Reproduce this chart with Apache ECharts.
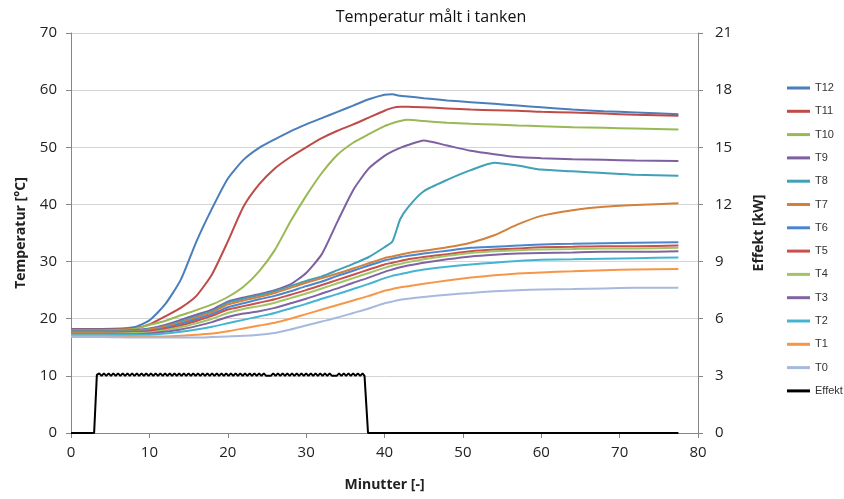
<!DOCTYPE html>
<html>
<head>
<meta charset="utf-8">
<script src="https://cdn.jsdelivr.net/npm/echarts@6/dist/echarts.min.js"></script>
<style>html,body{margin:0;padding:0;background:#fff;}#c{width:844px;height:499px;}</style>
</head>
<body>
<div id="c"></div>
<script>
// Shared time grid (minutes) for the temperature series
const minutes = [0, 4, 8, 10, 12, 14, 16, 18, 20, 22, 24, 26, 28, 30, 32, 34, 36, 38, 40, 41, 42, 43, 45, 48, 51, 54, 57, 60, 64, 68, 72, 77.5];

const T12 = [18.2, 18.2, 18.5, 19.7, 22.5, 26.8, 33.5, 39.3, 44.5, 47.8, 49.9, 51.4, 52.8, 54.0, 55.1, 56.2, 57.3, 58.4, 59.2, 59.3, 59.0, 58.9, 58.6, 58.2, 57.9, 57.6, 57.3, 57.0, 56.6, 56.3, 56.1, 55.8];
const T11 = [18.1, 18.1, 18.3, 19.0, 20.4, 21.9, 24.0, 27.8, 33.5, 39.6, 43.5, 46.3, 48.3, 50.0, 51.6, 52.9, 54.0, 55.2, 56.4, 56.9, 57.1, 57.1, 57.0, 56.8, 56.6, 56.5, 56.4, 56.2, 56.1, 55.9, 55.7, 55.5];
const T10 = [18.0, 18.0, 18.2, 18.9, 19.6, 20.6, 21.5, 22.5, 23.8, 25.6, 28.3, 32.0, 37.0, 41.5, 45.5, 48.7, 50.8, 52.3, 53.7, 54.2, 54.6, 54.8, 54.6, 54.3, 54.1, 54.0, 53.8, 53.7, 53.5, 53.4, 53.3, 53.1];
const T9  = [17.9, 17.9, 18.0, 18.3, 18.9, 19.8, 20.7, 21.6, 23.0, 23.7, 24.3, 25.0, 26.0, 28.0, 31.3, 37.0, 42.5, 46.3, 48.5, 49.3, 49.9, 50.4, 51.2, 50.3, 49.4, 48.8, 48.3, 48.1, 47.9, 47.8, 47.7, 47.6];
const T8  = [17.8, 17.8, 17.9, 18.2, 18.7, 19.5, 20.4, 21.3, 22.8, 23.5, 24.1, 24.8, 25.7, 26.6, 27.4, 28.5, 29.6, 30.8, 32.5, 33.5, 37.4, 39.5, 42.3, 44.3, 46.0, 47.3, 46.8, 46.1, 45.8, 45.5, 45.2, 45.0];
const T7  = [17.7, 17.7, 17.8, 18.1, 18.6, 19.3, 20.2, 21.1, 22.5, 23.2, 23.8, 24.5, 25.4, 26.3, 27.1, 27.9, 28.8, 29.7, 30.6, 30.9, 31.2, 31.5, 31.9, 32.5, 33.3, 34.6, 36.5, 38.0, 39.0, 39.6, 39.9, 40.2];
const T6  = [17.6, 17.6, 17.7, 17.9, 18.4, 19.1, 19.9, 20.8, 22.0, 22.7, 23.4, 24.0, 24.8, 25.7, 26.5, 27.5, 28.4, 29.3, 30.2, 30.5, 30.8, 31.0, 31.4, 31.9, 32.4, 32.6, 32.8, 33.0, 33.1, 33.2, 33.3, 33.4];
const T5  = [17.5, 17.5, 17.6, 17.8, 18.2, 18.8, 19.6, 20.5, 21.6, 22.2, 22.8, 23.4, 24.2, 25.0, 25.9, 26.8, 27.7, 28.6, 29.5, 29.8, 30.1, 30.4, 30.8, 31.3, 31.8, 32.1, 32.3, 32.5, 32.6, 32.7, 32.7, 32.8];
const T4  = [17.4, 17.4, 17.5, 17.6, 18.0, 18.5, 19.2, 20.0, 21.0, 21.7, 22.2, 22.8, 23.6, 24.4, 25.3, 26.2, 27.1, 28.0, 28.9, 29.3, 29.6, 29.9, 30.4, 31.0, 31.5, 31.8, 32.0, 32.1, 32.2, 32.3, 32.3, 32.4];
const T3  = [17.3, 17.3, 17.3, 17.4, 17.7, 18.1, 18.7, 19.4, 20.3, 20.9, 21.3, 21.9, 22.7, 23.5, 24.4, 25.3, 26.3, 27.2, 28.2, 28.6, 29.0, 29.3, 29.8, 30.4, 30.9, 31.2, 31.4, 31.5, 31.6, 31.7, 31.7, 31.8];
const T2  = [17.2, 17.2, 17.2, 17.2, 17.4, 17.7, 18.1, 18.6, 19.2, 19.8, 20.4, 21.0, 21.8, 22.6, 23.5, 24.3, 25.2, 26.1, 27.1, 27.5, 27.8, 28.1, 28.6, 29.1, 29.5, 29.8, 30.1, 30.3, 30.4, 30.5, 30.6, 30.7];
const T1  = [17.0, 17.0, 16.9, 16.9, 16.9, 17.0, 17.2, 17.4, 17.8, 18.3, 18.8, 19.3, 20.0, 20.8, 21.6, 22.4, 23.2, 24.0, 24.9, 25.2, 25.5, 25.7, 26.1, 26.7, 27.2, 27.6, 27.9, 28.1, 28.3, 28.5, 28.6, 28.7];
const T0  = [16.8, 16.8, 16.7, 16.7, 16.7, 16.7, 16.7, 16.8, 16.9, 17.0, 17.2, 17.5, 18.1, 18.8, 19.5, 20.2, 21.0, 21.8, 22.7, 23.0, 23.3, 23.5, 23.8, 24.2, 24.5, 24.8, 25.0, 25.1, 25.2, 25.3, 25.4, 25.4];

// Heater power (kW), right axis
const effektMinutes = [0, 2.95, 3.3,
  3.6, 3.9, 4.2, 4.5, 4.8, 5.1, 5.4, 5.7, 6.0, 6.3, 6.6, 6.9, 7.2, 7.5, 7.8, 8.1, 8.4, 8.7, 9.0, 9.3, 9.6, 9.9,
  10.2, 10.5, 10.8, 11.1, 11.4, 11.7, 12.0, 12.3, 12.6, 12.9, 13.2, 13.5, 13.8, 14.1, 14.4, 14.7, 15.0, 15.3, 15.6, 15.9,
  16.2, 16.5, 16.8, 17.1, 17.4, 17.7, 18.0, 18.3, 18.6, 18.9, 19.2, 19.5, 19.8, 20.1, 20.4, 20.7, 21.0, 21.3, 21.6, 21.9,
  22.2, 22.5, 22.8, 23.1, 23.4, 23.7, 24.0, 24.3, 24.6, 24.9, 25.2, 25.5, 25.8, 26.1, 26.4, 26.7, 27.0, 27.3, 27.6, 27.9,
  28.2, 28.5, 28.8, 29.1, 29.4, 29.7, 30.0, 30.3, 30.6, 30.9, 31.2, 31.5, 31.8, 32.1, 32.4, 32.7, 33.0, 33.3, 33.6, 33.9,
  34.2, 34.5, 34.8, 35.1, 35.4, 35.7, 36.0, 36.3, 36.6, 36.9, 37.2,
  37.45, 37.9, 77.5];
const effektKW = [0, 0, 3.05,
  3.13, 3.0, 3.13, 3.0, 3.13, 3.0, 3.13, 3.0, 3.13, 3.0, 3.13, 3.0, 3.13, 3.0, 3.13, 3.0, 3.13, 3.0, 3.13, 3.0, 3.13, 3.0,
  3.13, 3.0, 3.13, 3.0, 3.13, 3.0, 3.13, 3.0, 3.13, 3.0, 3.13, 3.0, 3.13, 3.0, 3.13, 3.0, 3.13, 3.0, 3.13, 3.0,
  3.13, 3.0, 3.13, 3.0, 3.13, 3.0, 3.13, 3.0, 3.13, 3.0, 3.13, 3.0, 3.13, 3.0, 3.13, 3.0, 3.13, 3.0, 3.13, 3.0,
  3.13, 3.0, 3.13, 3.0, 3.13, 3.0, 3.13, 3.0, 3.13, 3.0, 3.0, 3.0, 3.13, 3.0, 3.13, 3.0, 3.13, 3.0, 3.13, 3.0,
  3.13, 3.0, 3.13, 3.0, 3.13, 3.0, 3.13, 3.0, 3.13, 3.0, 3.13, 3.0, 3.13, 3.0, 3.13, 3.0, 3.13, 3.0, 3.0, 3.0,
  3.13, 3.0, 3.13, 3.0, 3.13, 3.0, 3.13, 3.0, 3.13, 3.0, 3.13,
  3.0, 0, 0];

const seriesNames = ['T12', 'T11', 'T10', 'T9', 'T8', 'T7', 'T6', 'T5', 'T4', 'T3', 'T2', 'T1', 'T0'];
const seriesValues = [T12, T11, T10, T9, T8, T7, T6, T5, T4, T3, T2, T1, T0];
const seriesColors = ['#4A7EBB', '#BE4B48', '#98B954', '#7D60A0', '#3FA0B8', '#D3803A', '#4A86CF', '#C8504D', '#A2C465', '#8064A2', '#45B4D2', '#F79646', '#A7B9DF'];

const titleText = 'Temperatur målt i tanken';
const xTicks = { min: 0, max: 80, interval: 10 };
const yLeft = { min: 0, max: 70, interval: 10 };
const yRight = { min: 0, max: 21, interval: 3 };

const FONT = 'Open Sans';
const chart = echarts.init(document.getElementById('c'), null, { renderer: 'canvas' });

const series = seriesNames.map((n, i) => ({
  name: n,
  type: 'line',
  yAxisIndex: 0,
  showSymbol: false,
  smooth: 0.2,
  lineStyle: { width: 2, color: seriesColors[i] },
  itemStyle: { color: seriesColors[i] },
  data: minutes.map((m, j) => [m, seriesValues[i][j]])
}));
series.push({
  name: 'Effekt',
  type: 'line',
  yAxisIndex: 1,
  showSymbol: false,
  smooth: false,
  lineStyle: { width: 2, color: '#000' },
  itemStyle: { color: '#000' },
  data: effektMinutes.map((m, j) => [m, effektKW[j]])
});

chart.setOption({
  animation: false,
  backgroundColor: '#fff',
  title: {
    text: titleText,
    left: 426, top: 4, textAlign: 'center',
    textStyle: { fontFamily: FONT, fontSize: 16, fontWeight: 'normal', color: '#111' }
  },
  legend: {
    orient: 'vertical',
    left: 787, top: 82, padding: 0,
    itemWidth: 23, itemHeight: 3, itemGap: 11.3,
    icon: 'rect',
    data: seriesNames.concat(['Effekt']),
    textStyle: { fontFamily: 'Liberation Sans', fontSize: 11, color: '#333', lineHeight: 12 }
  },
  grid: { left: 71, right: 146, top: 33, bottom: 66, containLabel: false },
  xAxis: {
    type: 'value', min: xTicks.min, max: xTicks.max, interval: xTicks.interval,
    name: 'Minutter [-]', nameLocation: 'middle', nameGap: 45,
    nameTextStyle: { fontFamily: FONT, fontSize: 14, fontWeight: 'bold', color: '#222' },
    axisLine: { show: true, lineStyle: { color: '#868686', width: 1 } },
    axisTick: { show: true, length: 5, lineStyle: { color: '#868686' } },
    axisLabel: { fontFamily: FONT, fontSize: 15, color: '#222', margin: 12 },
    splitLine: { show: false }
  },
  yAxis: [{
    type: 'value', position: 'left', min: yLeft.min, max: yLeft.max, interval: yLeft.interval,
    name: 'Temperatur [°C]', nameLocation: 'middle', nameGap: 43, nameRotate: 90,
    nameTextStyle: { fontFamily: FONT, fontSize: 14, fontWeight: 'bold', color: '#222' },
    axisLine: { show: true, lineStyle: { color: '#868686', width: 1 } },
    axisTick: { show: true, length: 5, lineStyle: { color: '#868686' } },
    axisLabel: { fontFamily: FONT, fontSize: 15, color: '#222', margin: 14 },
    splitLine: { show: true, lineStyle: { color: '#D4D4D4', width: 1 } }
  }, {
    type: 'value', position: 'right', min: yRight.min, max: yRight.max, interval: yRight.interval,
    name: 'Effekt [kW]', nameLocation: 'middle', nameGap: 54, nameRotate: 90,
    nameTextStyle: { fontFamily: FONT, fontSize: 14, fontWeight: 'bold', color: '#222' },
    axisLine: { show: true, lineStyle: { color: '#868686', width: 1 } },
    axisTick: { show: true, length: 5, lineStyle: { color: '#868686' } },
    axisLabel: { fontFamily: FONT, fontSize: 15, color: '#222', margin: 17 },
    splitLine: { show: false }
  }],
  series: series
});
</script>
</body>
</html>
